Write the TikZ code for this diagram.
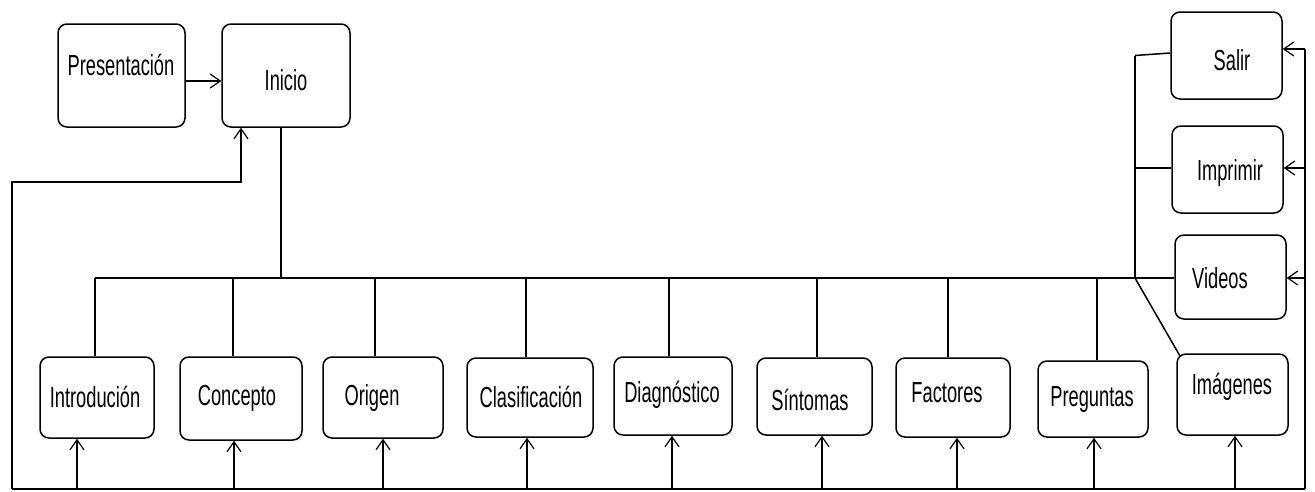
\documentclass[tikz,border=0pt]{standalone}
\usepackage{fontspec}
\setmainfont{Liberation Sans}
\newfontfamily\narrowsans[FakeStretch=0.63]{Liberation Sans}
\usetikzlibrary{arrows.meta}
\begin{document}
\begin{tikzpicture}[x=1pt,y=-1pt,
  line width=1.5pt,
  box/.style={draw, rounded corners=9pt, inner sep=0pt},
  lbl/.style={inner sep=0pt, font=\narrowsans\fontsize{29}{32}\selectfont},
  arr/.style={-{Straight Barb[length=10pt,width=14pt,line width=1.2pt]}}]
\useasboundingbox (0,0) rectangle (1315,491);

% top boxes
\node[box, minimum width=127pt, minimum height=103pt] (pres) at (121.5,75.5) {};
\node[lbl] (presT) at (121,65) {Presentación};
\node[box, minimum width=128pt, minimum height=103pt] (inicio) at (286,75.5) {};
\node[lbl] (inicioT) at (286,80) {Inicio};

% right column
\node[box, minimum width=111pt, minimum height=87pt] (salir) at (1226.5,55.5) {};
\node[lbl] (salirT) at (1232,60) {Salir};
\node[box, minimum width=111pt, minimum height=87pt] (impr) at (1227.5,169.5) {};
\node[lbl] (imprT) at (1230,173) {Imprimir};
\node[box, minimum width=111pt, minimum height=84pt] (videos) at (1230.5,277) {};
\node[lbl] (videosT) at (1220,278) {Videos};
\node[box, minimum width=111pt, minimum height=81pt] (imag) at (1232.5,394.5) {};
\node[lbl] (imagT) at (1232,387) {Imágenes};

% bottom row
\node[box, minimum width=114pt, minimum height=81pt] (intro) at (97,397.5) {};
\node[lbl] (introT) at (95,397) {Introdución};
\node[box, minimum width=122pt, minimum height=83pt] (conc) at (241,398.5) {};
\node[lbl] (concT) at (237,398) {Concepto};
\node[box, minimum width=120pt, minimum height=81pt] (orig) at (383,397.5) {};
\node[lbl] (origT) at (372,398) {Origen};
\node[box, minimum width=126pt, minimum height=79pt] (clas) at (530,397.5) {};
\node[lbl] (clasT) at (531,397) {Clasificación};
\node[box, minimum width=118pt, minimum height=78pt] (diag) at (673,396) {};
\node[lbl] (diagT) at (672,395) {Diagnóstico};
\node[box, minimum width=115pt, minimum height=77pt] (sint) at (814.5,396.5) {};
\node[lbl] (sintT) at (810,400) {Síntomas};
\node[box, minimum width=114pt, minimum height=79pt] (fact) at (953,397.5) {};
\node[lbl] (factT) at (947,393) {Factores};
\node[box, minimum width=110pt, minimum height=76pt] (preg) at (1093,399) {};
\node[lbl] (pregT) at (1092,400) {Preguntas};

% reference lines
\coordinate (bus) at (0,278);
\coordinate (base) at (0,489);
\coordinate (lret) at (12,182);
\coordinate (colL) at (1135,0);
\coordinate (colR) at (1305,0);

% Presentación -> Inicio
\draw[arr] (pres.east |- 0,81) -- (inicio.west |- 0,81);

% Inicio down to the bus, bus across to Videos
\draw (281,0 |- inicio.south) -- (281,0 |- bus);
\draw (95,0 |- bus) -- (videos.west |- bus);

% drops from the bus
\draw (95,0 |- bus) -- (95,0 |- intro.north);
\draw (233,0 |- bus) -- (233,0 |- conc.north);
\draw (375,0 |- bus) -- (375,0 |- orig.north);
\draw (526,0 |- bus) -- (526,0 |- clas.north);
\draw (669,0 |- bus) -- (669,0 |- diag.north);
\draw (817,0 |- bus) -- (817,0 |- sint.north);
\draw (948,0 |- bus) -- (948,0 |- fact.north);
\draw (1097,0 |- bus) -- (1097,0 |- preg.north);

% right column branch
\draw (colL |- salir.west) -- (colL |- bus);
\draw (colL |- salir.west) -- (salir.west |- 0,53);
\draw (colL |- 0,168) -- (impr.west |- 0,168);
\draw (colL |- bus) -- (1180,356);

% return loop along the bottom
\draw (lret |- base) -- (colR |- base);
\draw[arr] (lret |- base) -- (lret) -- (241,182) -- (241,0 |- inicio.south);
\draw (colR |- base) -- (colR |- 0,49);
\draw[arr] (colR |- 0,49) -- (salir.east |- 0,49);
\draw[arr] (colR |- 0,168) -- (impr.east |- 0,168);
\draw[arr] (colR |- bus) -- (videos.east |- bus);

% up arrows into each bottom box
\draw[arr] (77,0 |- base) -- (77,0 |- intro.south);
\draw[arr] (234,0 |- base) -- (234,0 |- conc.south);
\draw[arr] (383,0 |- base) -- (383,0 |- orig.south);
\draw[arr] (527,0 |- base) -- (527,0 |- clas.south);
\draw[arr] (672,0 |- base) -- (672,0 |- diag.south);
\draw[arr] (822,0 |- base) -- (822,0 |- sint.south);
\draw[arr] (957,0 |- base) -- (957,0 |- fact.south);
\draw[arr] (1094,0 |- base) -- (1094,0 |- preg.south);
\draw[arr] (1235,0 |- base) -- (1235,0 |- imag.south);
\end{tikzpicture}
\end{document}
